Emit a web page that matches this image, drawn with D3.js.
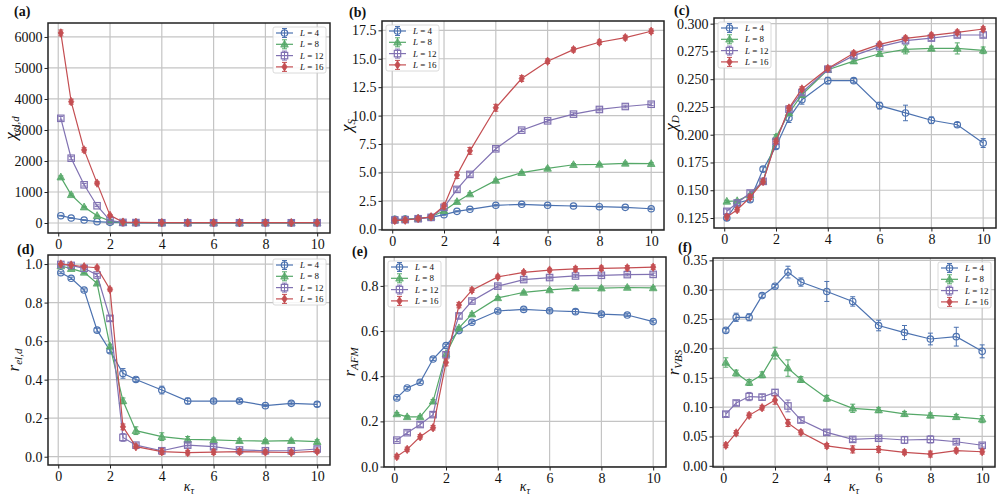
<!DOCTYPE html>
<html>
<head>
<meta charset="utf-8">
<script src="https://cdn.jsdelivr.net/npm/d3@7"></script>
<style>
body { margin: 0; background: #fff; }
svg text { font-family: "Liberation Serif", "DejaVu Serif", serif; fill: #111; }
</style>
</head>
<body>
<div id="chart_area"></div>
<script>
// x values shared by every panel
var kappa = [0.1, 0.5, 1, 1.5, 2, 2.5, 3, 4, 5, 6, 7, 8, 9, 10];
var sizeLabels = ["4", "8", "12", "16"];
var colors = ["#4c72b0", "#55a868", "#8172b2", "#c44e52"];
var markerTypes = ["circle", "triangle", "square", "diamond"];
var xTicks = [0, 2, 4, 6, 8, 10];

// (a) chi_el,d
var chiEl4 = [236, 161, 96, 43, 21, 8, 6, 5, 5, 5, 5, 5, 5, 5];
var chiEl4Err = [12, 10, 8, 5, 3, 1, 1, 1, 1, 1, 1, 1, 1, 1];
var chiEl8 = [1480, 911, 514, 236, 60, 12, 8, 6, 6, 6, 6, 6, 6, 6];
var chiEl8Err = [40, 30, 22, 14, 6, 2, 1, 1, 1, 1, 1, 1, 1, 1];
var chiEl12 = [3376, 2090, 1232, 557, 80, 20, 14, 9, 8, 8, 8, 8, 8, 8];
var chiEl12Err = [60, 50, 40, 28, 10, 3, 2, 1, 1, 1, 1, 1, 1, 1];
var chiEl16 = [6130, 3913, 2358, 1286, 246, 30, 20, 12, 10, 10, 10, 10, 10, 10];
var chiEl16Err = [95, 80, 70, 55, 22, 5, 3, 2, 2, 2, 2, 2, 2, 2];

// (b) chi_S
var chiS4 = [0.88, 0.90, 0.95, 1.05, 1.29, 1.58, 1.76, 2.11, 2.20, 2.11, 2.05, 1.99, 1.93, 1.81];
var chiS4Err = [0.05, 0.05, 0.05, 0.05, 0.05, 0.05, 0.06, 0.06, 0.06, 0.05, 0.05, 0.05, 0.05, 0.06];
var chiS8 = [0.85, 0.88, 0.95, 1.08, 1.64, 2.43, 3.10, 4.30, 4.98, 5.36, 5.68, 5.71, 5.80, 5.77];
var chiS8Err = [0.08, 0.08, 0.08, 0.1, 0.1, 0.12, 0.12, 0.12, 0.1, 0.1, 0.1, 0.1, 0.12, 0.1];
var chiS12 = [0.82, 0.85, 0.93, 1.05, 1.93, 3.51, 4.83, 7.08, 8.72, 9.54, 10.13, 10.54, 10.80, 11.00];
var chiS12Err = [0.1, 0.1, 0.1, 0.1, 0.15, 0.15, 0.15, 0.15, 0.12, 0.12, 0.12, 0.12, 0.12, 0.12];
var chiS16 = [0.78, 0.80, 0.95, 1.10, 2.05, 4.77, 6.90, 10.69, 13.26, 14.78, 15.80, 16.45, 16.86, 17.42];
var chiS16Err = [0.22, 0.2, 0.15, 0.15, 0.25, 0.3, 0.3, 0.3, 0.25, 0.2, 0.2, 0.2, 0.2, 0.2];

// (c) chi_D
var chiD4 = [0.125, 0.1385, 0.1415, 0.169, 0.1895, 0.215, 0.2315, 0.2487, 0.2487, 0.2262, 0.2196, 0.213, 0.209, 0.1925];
var chiD4Err = [0.002, 0.002, 0.002, 0.002, 0.002, 0.004, 0.004, 0.003, 0.002, 0.003, 0.007, 0.003, 0.002, 0.004];
var chiD8 = [0.140, 0.1405, 0.146, 0.158, 0.198, 0.2196, 0.236, 0.2585, 0.2663, 0.2729, 0.2768, 0.2777, 0.2777, 0.276];
var chiD8Err = [0.001, 0.001, 0.001, 0.001, 0.002, 0.002, 0.002, 0.002, 0.002, 0.002, 0.004, 0.002, 0.005, 0.003];
var chiD12 = [0.131, 0.1385, 0.1475, 0.158, 0.194, 0.223, 0.238, 0.259, 0.2712, 0.2793, 0.2847, 0.287, 0.2898, 0.2898];
var chiD12Err = [0.002, 0.002, 0.002, 0.002, 0.002, 0.002, 0.002, 0.002, 0.002, 0.002, 0.002, 0.002, 0.002, 0.002];
var chiD16 = [0.126, 0.1325, 0.1437, 0.1578, 0.194, 0.224, 0.2412, 0.2597, 0.2733, 0.2814, 0.2868, 0.2895, 0.2922, 0.2952];
var chiD16Err = [0.002, 0.002, 0.002, 0.002, 0.002, 0.002, 0.002, 0.002, 0.002, 0.002, 0.002, 0.002, 0.002, 0.002];

// (d) r_el,d
var rEl4 = [0.955, 0.926, 0.865, 0.657, 0.55, 0.4325, 0.401, 0.346, 0.289, 0.289, 0.289, 0.265, 0.277, 0.272];
var rEl4Err = [0.005, 0.006, 0.006, 0.01, 0.01, 0.025, 0.01, 0.02, 0.015, 0.01, 0.008, 0.005, 0.008, 0.012];
var rEl8 = [0.99, 0.976, 0.957, 0.9, 0.574, 0.29, 0.135, 0.104, 0.09, 0.087, 0.083, 0.081, 0.083, 0.078];
var rEl8Err = [0.005, 0.005, 0.006, 0.008, 0.01, 0.015, 0.02, 0.02, 0.015, 0.01, 0.01, 0.008, 0.008, 0.01];
var rEl12 = [0.998, 0.993, 0.978, 0.943, 0.718, 0.1, 0.06, 0.031, 0.06, 0.052, 0.035, 0.031, 0.031, 0.04];
var rEl12Err = [0.003, 0.004, 0.005, 0.008, 0.012, 0.02, 0.01, 0.012, 0.01, 0.01, 0.008, 0.008, 0.008, 0.01];
var rEl16 = [1.0, 0.995, 0.986, 0.981, 0.868, 0.155, 0.052, 0.026, 0.021, 0.024, 0.026, 0.024, 0.022, 0.028];
var rEl16Err = [0.003, 0.004, 0.006, 0.008, 0.008, 0.015, 0.01, 0.015, 0.012, 0.012, 0.012, 0.01, 0.01, 0.01];

// (e) r_AFM
var rAfm4 = [0.304, 0.348, 0.373, 0.476, 0.536, 0.602, 0.639, 0.689, 0.696, 0.69, 0.686, 0.675, 0.671, 0.642];
var rAfm4Err = [0.006, 0.006, 0.006, 0.006, 0.006, 0.006, 0.006, 0.006, 0.006, 0.006, 0.01, 0.006, 0.006, 0.006];
var rAfm8 = [0.233, 0.22, 0.22, 0.289, 0.499, 0.614, 0.675, 0.747, 0.771, 0.782, 0.79, 0.79, 0.793, 0.791];
var rAfm8Err = [0.006, 0.006, 0.006, 0.008, 0.008, 0.006, 0.006, 0.006, 0.006, 0.006, 0.006, 0.006, 0.006, 0.006];
var rAfm12 = [0.117, 0.15, 0.186, 0.23, 0.495, 0.667, 0.733, 0.799, 0.828, 0.837, 0.844, 0.847, 0.85, 0.851];
var rAfm12Err = [0.006, 0.008, 0.01, 0.01, 0.012, 0.01, 0.008, 0.008, 0.006, 0.006, 0.006, 0.006, 0.006, 0.006];
var rAfm16 = [0.044, 0.076, 0.132, 0.172, 0.461, 0.715, 0.781, 0.84, 0.86, 0.87, 0.875, 0.878, 0.88, 0.883];
var rAfm16Err = [0.01, 0.01, 0.01, 0.01, 0.015, 0.012, 0.01, 0.008, 0.008, 0.008, 0.01, 0.01, 0.01, 0.01];

// (f) r_VBS
var rVbs4 = [0.2307, 0.253, 0.253, 0.29, 0.306, 0.33, 0.313, 0.297, 0.28, 0.239, 0.227, 0.216, 0.22, 0.195];
var rVbs4Err = [0.003, 0.007, 0.006, 0.003, 0.003, 0.01, 0.007, 0.017, 0.008, 0.009, 0.012, 0.01, 0.016, 0.011];
var rVbs8 = [0.176, 0.158, 0.142, 0.155, 0.192, 0.1665, 0.147, 0.115, 0.098, 0.095, 0.0886, 0.086, 0.0835, 0.0795];
var rVbs8Err = [0.008, 0.005, 0.005, 0.005, 0.01, 0.014, 0.005, 0.005, 0.007, 0.004, 0.004, 0.004, 0.004, 0.006];
var rVbs12 = [0.088, 0.107, 0.118, 0.117, 0.125, 0.102, 0.078, 0.057, 0.045, 0.047, 0.044, 0.045, 0.041, 0.035];
var rVbs12Err = [0.004, 0.004, 0.007, 0.005, 0.005, 0.01, 0.004, 0.004, 0.004, 0.003, 0.006, 0.006, 0.003, 0.003];
var rVbs16 = [0.035, 0.056, 0.086, 0.099, 0.112, 0.073, 0.057, 0.034, 0.028, 0.028, 0.023, 0.02, 0.026, 0.024];
var rVbs16Err = [0.004, 0.004, 0.004, 0.004, 0.007, 0.006, 0.004, 0.004, 0.006, 0.005, 0.004, 0.005, 0.004, 0.004];

// y tick values
var ticksA = [0, 1000, 2000, 3000, 4000, 5000, 6000];
var ticksB = [0, 2.5, 5, 7.5, 10, 12.5, 15, 17.5];
var ticksC = [0.125, 0.15, 0.175, 0.2, 0.225, 0.25, 0.275, 0.3];
var ticksD = [0, 0.2, 0.4, 0.6, 0.8, 1.0];
var ticksE = [0, 0.2, 0.4, 0.6, 0.8];
var ticksF = [0, 0.05, 0.1, 0.15, 0.2, 0.25, 0.3, 0.35];

var panels = [
  {tag: "(a)", tagX: 14, tagY: 16, box: [48, 23, 330, 233], yDomain: [-322, 6450], yTicks: ticksA, fmt: d3.format("d"),
   sym: "χ", sub: "el,d", labX: 16, legend: "tr", xlabel: false,
   series: [[chiEl4, chiEl4Err], [chiEl8, chiEl8Err], [chiEl12, chiEl12Err], [chiEl16, chiEl16Err]]},
  {tag: "(b)", tagX: 349, tagY: 17, box: [382, 21, 664, 230], yDomain: [-0.06, 18.32], yTicks: ticksB, fmt: d3.format(".1f"),
   sym: "χ", sub: "S", labX: 352, legend: "tl", xlabel: false,
   series: [[chiS4, chiS4Err], [chiS8, chiS8Err], [chiS12, chiS12Err], [chiS16, chiS16Err]]},
  {tag: "(c)", tagX: 674, tagY: 15, box: [714, 18, 996, 228], yDomain: [0.116, 0.3051], yTicks: ticksC, fmt: d3.format(".3f"),
   sym: "χ", sub: "D", labX: 676, legend: "tl", xlabel: false,
   series: [[chiD4, chiD4Err], [chiD8, chiD8Err], [chiD12, chiD12Err], [chiD16, chiD16Err]]},
  {tag: "(d)", tagX: 17, tagY: 254, box: [48, 255, 330, 465], yDomain: [-0.043, 1.047], yTicks: ticksD, fmt: d3.format(".1f"),
   sym: "r", sub: "el,d", labX: 19, legend: "tr", xlabel: true,
   series: [[rEl4, rEl4Err], [rEl8, rEl8Err], [rEl12, rEl12Err], [rEl16, rEl16Err]]},
  {tag: "(e)", tagX: 352, tagY: 256, box: [384, 257, 666, 467], yDomain: [-0.002, 0.928], yTicks: ticksE, fmt: d3.format(".1f"),
   sym: "r", sub: "AFM", labX: 355, legend: "tl", xlabel: true,
   series: [[rAfm4, rAfm4Err], [rAfm8, rAfm8Err], [rAfm12, rAfm12Err], [rAfm16, rAfm16Err]]},
  {tag: "(f)", tagX: 678, tagY: 252, box: [713, 258, 995, 467], yDomain: [-0.002, 0.354], yTicks: ticksF, fmt: d3.format(".2f"),
   sym: "r", sub: "VBS", labX: 679, legend: "tr", xlabel: true,
   series: [[rVbs4, rVbs4Err], [rVbs8, rVbs8Err], [rVbs12, rVbs12Err], [rVbs16, rVbs16Err]]}
];

var svg = d3.select("#chart_area").append("svg")
  .attr("width", 1003).attr("height", 504);

function drawMarker(sel, type, cx, cy, color) {
  if (type == "circle") {
    sel.append("circle").attr("cx", cx).attr("cy", cy).attr("r", 3.2)
      .attr("fill", "none").attr("stroke", color).attr("stroke-width", 1.2);
  } else if (type == "triangle") {
    sel.append("path")
      .attr("d", "M" + cx + "," + (cy - 4) + "L" + (cx + 3.8) + "," + (cy + 2.8) + "L" + (cx - 3.8) + "," + (cy + 2.8) + "Z")
      .attr("fill", color).attr("fill-opacity", 0.8).attr("stroke", color).attr("stroke-width", 0.8);
  } else if (type == "square") {
    sel.append("rect").attr("x", cx - 3.2).attr("y", cy - 3.2).attr("width", 6.4).attr("height", 6.4)
      .attr("fill", "none").attr("stroke", color).attr("stroke-width", 1.2);
  } else {
    sel.append("path")
      .attr("d", "M" + cx + "," + (cy - 4.2) + "L" + (cx + 2.6) + "," + cy + "L" + cx + "," + (cy + 4.2) + "L" + (cx - 2.6) + "," + cy + "Z")
      .attr("fill", color).attr("stroke", color).attr("stroke-width", 0.8);
  }
}

function errBar(sel, cx, yTop, yBot, color) {
  sel.append("line").attr("x1", cx).attr("x2", cx).attr("y1", yTop).attr("y2", yBot)
    .attr("stroke", color).attr("stroke-width", 1);
  [yTop, yBot].forEach(function(yy) {
    sel.append("line").attr("x1", cx - 2.5).attr("x2", cx + 2.5).attr("y1", yy).attr("y2", yy)
      .attr("stroke", color).attr("stroke-width", 1);
  });
}

panels.forEach(function(p) {
  var x0 = p.box[0], y0 = p.box[1], x1 = p.box[2], y1 = p.box[3];
  var g = svg.append("g");

  var xScale = d3.scaleLinear().domain([-0.395, 10.495]).range([x0, x1]);
  var yScale = d3.scaleLinear().domain(p.yDomain).range([y1, y0]);

  // grid
  g.append("g").selectAll("line").data(xTicks).enter().append("line")
    .attr("x1", function(d) { return xScale(d); }).attr("x2", function(d) { return xScale(d); })
    .attr("y1", y0).attr("y2", y1)
    .attr("stroke", "#c4c4c4").attr("stroke-width", 1.2);
  g.append("g").selectAll("line").data(p.yTicks).enter().append("line")
    .attr("x1", x0).attr("x2", x1)
    .attr("y1", function(d) { return yScale(d); }).attr("y2", function(d) { return yScale(d); })
    .attr("stroke", "#c4c4c4").attr("stroke-width", 1.2);

  // axes
  var xAxis = d3.axisBottom(xScale).tickValues(xTicks).tickSize(3.5).tickPadding(3).tickFormat(d3.format("d"));
  var yAxis = d3.axisLeft(yScale).tickValues(p.yTicks).tickSize(3.5).tickPadding(2).tickFormat(p.fmt);

  var gx = g.append("g").attr("transform", "translate(0," + y1 + ")").call(xAxis);
  var gy = g.append("g").attr("transform", "translate(" + x0 + ",0)").call(yAxis);
  [gx, gy].forEach(function(ax) {
    ax.attr("font-family", null).attr("font-size", null);
    ax.select(".domain").remove();
    ax.selectAll(".tick line").attr("stroke", "#222");
    ax.selectAll(".tick text").style("font-size", "14px").attr("fill", "#111")
      .style("font-family", "'Liberation Serif', 'DejaVu Serif', serif");
  });

  // series
  var line = d3.line()
    .x(function(d) { return xScale(d[0]); })
    .y(function(d) { return yScale(d[1]); });

  p.series.forEach(function(s, i) {
    var vals = s[0], errs = s[1];
    var pts = kappa.map(function(k, j) { return [k, vals[j], errs[j]]; });
    var sg = g.append("g");
    sg.append("path").attr("d", line(pts)).attr("fill", "none")
      .attr("stroke", colors[i]).attr("stroke-width", 1.2);
    pts.forEach(function(d) {
      errBar(sg, xScale(d[0]), yScale(d[1] + d[2]), yScale(d[1] - d[2]), colors[i]);
    });
    pts.forEach(function(d) {
      drawMarker(sg, markerTypes[i], xScale(d[0]), yScale(d[1]), colors[i]);
    });
  });

  // frame
  g.append("rect").attr("x", x0).attr("y", y0).attr("width", x1 - x0).attr("height", y1 - y0)
    .attr("fill", "none").attr("stroke", "#222").attr("stroke-width", 1.5);

  // legend
  var lw = 53, lh = 46;
  var lx = p.legend == "tr" ? x1 - 4 - lw : x0 + 4;
  var ly = y0 + 4;
  var lg = g.append("g");
  lg.append("rect").attr("x", lx).attr("y", ly).attr("width", lw).attr("height", lh)
    .attr("rx", 2).attr("fill", "#fff").attr("fill-opacity", 0.85)
    .attr("stroke", "#d0d0d0").attr("stroke-width", 0.8);
  sizeLabels.forEach(function(lab, i) {
    var cy = ly + 6 + i * 11.3;
    lg.append("line").attr("x1", lx + 3).attr("x2", lx + 20).attr("y1", cy).attr("y2", cy)
      .attr("stroke", colors[i]).attr("stroke-width", 1.2);
    errBar(lg, lx + 11.5, cy - 4.5, cy + 4.5, colors[i]);
    drawMarker(lg, markerTypes[i], lx + 11.5, cy, colors[i]);
    var t = lg.append("text").attr("x", lx + 27).attr("y", cy + 3).style("font-size", "9px");
    t.append("tspan").style("font-style", "italic").text("L");
    t.append("tspan").text(" = " + lab);
  });

  // panel tag
  g.append("text").attr("x", p.tagX).attr("y", p.tagY).style("font-size", "14px")
    .style("font-weight", "bold").text(p.tag);

  // y label
  var yl = g.append("text")
    .attr("transform", "translate(" + p.labX + "," + ((y0 + y1) / 2) + ") rotate(-90)")
    .attr("text-anchor", "middle");
  yl.append("tspan").style("font-style", "italic").style("font-size", "17px").text(p.sym);
  yl.append("tspan").attr("dy", 3).style("font-style", "italic").style("font-size", "11px").text(p.sub);

  // x label
  if (p.xlabel) {
    var xl = g.append("text").attr("x", (x0 + x1) / 2).attr("y", 491).attr("text-anchor", "middle");
    xl.append("tspan").style("font-style", "italic").style("font-size", "14px").text("κ");
    xl.append("tspan").attr("dy", 3).style("font-style", "italic").style("font-size", "10px").text("τ");
  }
});
</script>
</body>
</html>
